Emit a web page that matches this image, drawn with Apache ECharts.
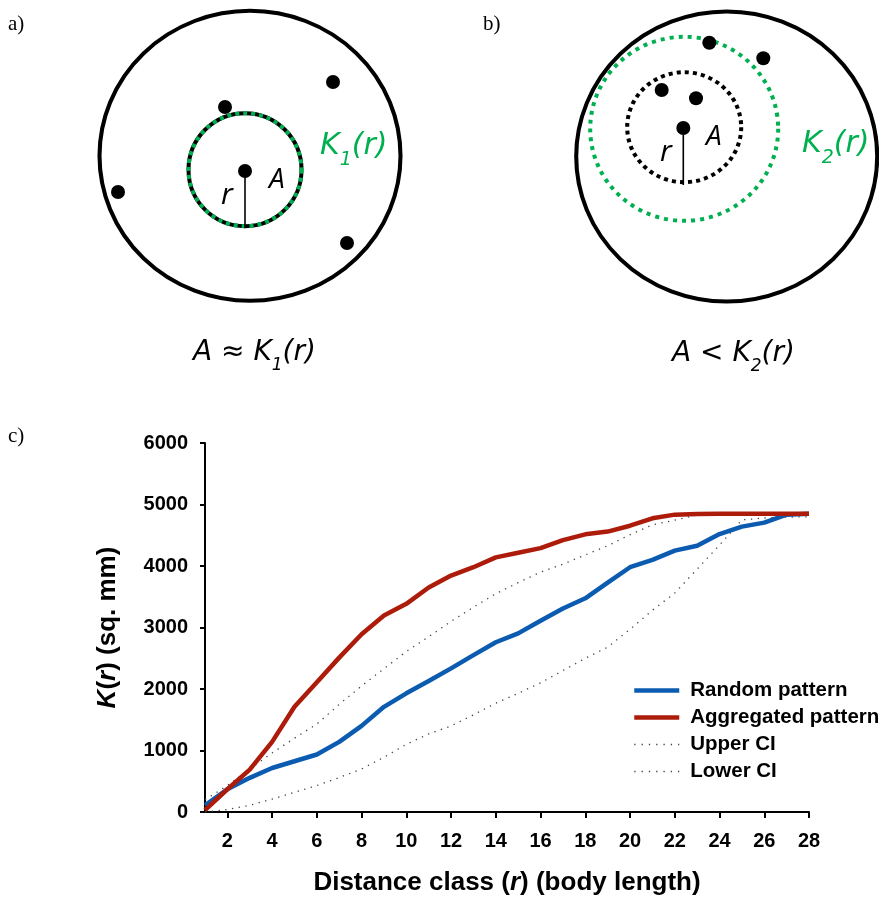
<!DOCTYPE html>
<html>
<head>
<meta charset="utf-8">
<script src="https://cdn.jsdelivr.net/npm/echarts@6/dist/echarts.min.js"></script>
<style>html,body{margin:0;padding:0;background:#fff}#c{width:879px;height:897px}</style>
</head>
<body>
<div id="c"></div>
<script>
// ---- Panel c data ----
const distanceClass = [1,2,3,4,5,6,7,8,9,10,11,12,13,14,15,16,17,18,19,20,21,22,23,24,25,26,27,28];
const randomPattern = [110,370,555,715,825,935,1140,1400,1710,1930,2130,2335,2550,2760,2905,3110,3310,3475,3730,3980,4100,4250,4330,4520,4640,4705,4835,4850];
const aggregatedPattern = [30,370,690,1140,1710,2110,2510,2890,3195,3385,3650,3845,3980,4140,4215,4290,4420,4515,4560,4655,4775,4835,4845,4850,4850,4850,4850,4850];
const upperCI = [200,430,700,960,1200,1430,1750,2050,2330,2610,2850,3100,3330,3550,3730,3900,4030,4180,4330,4510,4670,4745,4830,4855,4855,4855,4855,4855];
const lowerCI = [0,40,110,210,320,430,560,700,890,1100,1270,1400,1580,1770,1930,2100,2300,2500,2680,2970,3280,3560,3950,4340,4750,4780,4795,4800];
const yTicks = [0,1000,2000,3000,4000,5000,6000];

// ---- Diagram (panels a, b) data, in diagram units ----
const outerCircles = [[250,155.8],[726.7,156.5]];
const innerCircleA = [[245,169.7]];
const greenCircleB = [[684.2,128.8]];
const blackCircleB = [[684.2,127.2]];
const dotsA = [[245,171],[225,107],[333,82],[118,192],[347,243]];
const dotsB = [[683.3,128],[661.7,90],[696,98.3],[709.3,42.7],[763.3,58.3]];
const radiusA = [[245,171],[245,228]];
const radiusB = [[683.3,128],[683.3,185]];

const GREEN = '#00b050';
const BLUE = '#0b5cb0';
const RED = '#ad1c0a';
const SANS = 'Liberation Sans, Arial, sans-serif';
const ITAL = '"DejaVu Sans", "Open Sans", sans-serif';

const chart = echarts.init(document.getElementById('c'), null, {renderer:'canvas'});

function kLabel(x, y, str, color, size) {
  const sub = Math.round(size*0.62);
  const rich = {
    i: {fontFamily: ITAL, fontStyle: 'italic', fontSize: size, lineHeight: size + 8, verticalAlign: 'top', fill: color},
    s: {fontFamily: ITAL, fontStyle: 'italic', fontSize: sub, lineHeight: sub, padding: [Math.round(size*0.66),0,0,0], verticalAlign: 'top', fill: color}
  };
  return {type:'text', x: x, y: y, style: {text: str, rich: rich, fill: color}};
}
function plain(x, y, str, font) {
  return {type: 'text', x: x, y: y, style: {text: str, font: font, fill: '#000'}};
}

const option = {
  animation: false,
  backgroundColor: '#fff',
  grid: [
    {left: 205, right: 70, top: 443, bottom: 85},
    {left: 0, top: 0, width: 879, height: 380}
  ],
  xAxis: [
    {
      type: 'category', gridIndex: 0, data: distanceClass, boundaryGap: false,
      axisLine: {lineStyle: {color: '#000', width: 2}},
      axisTick: {show: true, length: 6, lineStyle: {color:'#000', width: 2},
        interval: function(i, v){ return Number(v) % 2 === 0; }},
      axisLabel: {color: '#000', fontFamily: SANS, fontWeight: 'bold', fontSize: 20, margin: 19,
        interval: function(i, v){ return Number(v) % 2 === 0; }},
      splitLine: {show: false},
      name: '{n|Distance class (}{i|r}{n|) (body length)}',
      nameLocation: 'middle', nameGap: 58,
      nameTextStyle: {rich: {
        n: {fontFamily: SANS, fontWeight: 'bold', fontSize: 26, color: '#000'},
        i: {fontFamily: SANS, fontWeight: 'bold', fontStyle: 'italic', fontSize: 26, color: '#000'}
      }}
    },
    {type: 'value', gridIndex: 1, min: 0, max: 879, show: false}
  ],
  yAxis: [
    {
      type: 'value', gridIndex: 0, min: yTicks[0], max: yTicks[yTicks.length-1], interval: 1000,
      axisLine: {show: true, lineStyle: {color: '#000', width: 2}},
      axisTick: {show: true, length: 5, lineStyle: {color:'#000', width: 2}},
      axisLabel: {color: '#000', fontFamily: SANS, fontWeight: 'bold', fontSize: 20, margin: 17,
        formatter: function(v){ return String(v); }},
      splitLine: {show: false},
      name: '{i|K}{n|(}{i|r}{n|) (sq. mm)}',
      nameLocation: 'middle', nameGap: 84, nameRotate: 90,
      nameTextStyle: {rich: {
        n: {fontFamily: SANS, fontWeight: 'bold', fontSize: 26, color: '#000'},
        i: {fontFamily: SANS, fontWeight: 'bold', fontStyle: 'italic', fontSize: 26, color: '#000'}
      }}
    },
    {type: 'value', gridIndex: 1, min: 0, max: 380, inverse: true, show: false}
  ],
  legend: {
    orient: 'vertical', left: 632, top: 680, padding: 0, itemWidth: 45, itemHeight: 14, itemGap: 6,
    itemStyle: {opacity: 0},
    textStyle: {fontFamily: SANS, fontWeight: 'bold', fontSize: 20.5, color: '#000', padding: [0,0,0,6]},
    data: [
      {name: 'Random pattern', lineStyle: {color: BLUE, width: 4.5}},
      {name: 'Aggregated pattern', lineStyle: {color: RED, width: 4.5}},
      {name: 'Upper CI', lineStyle: {color: '#444', width: 1.3, type: [1.3, 6]}},
      {name: 'Lower CI', lineStyle: {color: '#444', width: 1.3, type: [1.3, 6]}}
    ]
  },
  series: [
    {name: 'Upper CI', type: 'line', xAxisIndex: 0, yAxisIndex: 0, data: upperCI, symbol: 'none',
      lineStyle: {color: '#444', width: 1.3, type: [1.3, 5.5]}, itemStyle: {color: '#444'}, z: 2},
    {name: 'Lower CI', type: 'line', xAxisIndex: 0, yAxisIndex: 0, data: lowerCI, symbol: 'none',
      lineStyle: {color: '#444', width: 1.3, type: [1.3, 5.5]}, itemStyle: {color: '#444'}, z: 2},
    {name: 'Random pattern', type: 'line', xAxisIndex: 0, yAxisIndex: 0, data: randomPattern, symbol: 'none',
      lineStyle: {color: BLUE, width: 4.5}, itemStyle: {color: BLUE}, z: 3},
    {name: 'Aggregated pattern', type: 'line', xAxisIndex: 0, yAxisIndex: 0, data: aggregatedPattern, symbol: 'none',
      lineStyle: {color: RED, width: 4.5}, itemStyle: {color: RED}, z: 4},

    // Diagram circles
    {type: 'scatter', xAxisIndex: 1, yAxisIndex: 1, data: outerCircles, symbol: 'circle', symbolSize: [301, 290],
      itemStyle: {color: 'rgba(0,0,0,0)', borderColor: '#000', borderWidth: 4, opacity: 1}, silent: true, z: 2},
    {type: 'scatter', xAxisIndex: 1, yAxisIndex: 1, data: innerCircleA, symbol: 'circle', symbolSize: 113,
      itemStyle: {color: 'rgba(0,0,0,0)', borderColor: '#000', borderWidth: 4, opacity: 1}, silent: true, z: 2},
    {type: 'scatter', xAxisIndex: 1, yAxisIndex: 1, data: innerCircleA, symbol: 'circle', symbolSize: 113,
      itemStyle: {color: 'rgba(0,0,0,0)', borderColor: GREEN, borderWidth: 4, borderType: [4, 4], opacity: 1}, silent: true, z: 3},
    {type: 'scatter', xAxisIndex: 1, yAxisIndex: 1, data: greenCircleB, symbol: 'circle', symbolSize: [188, 184],
      itemStyle: {color: 'rgba(0,0,0,0)', borderColor: GREEN, borderWidth: 4, borderType: [4, 5], opacity: 1}, silent: true, z: 3},
    {type: 'scatter', xAxisIndex: 1, yAxisIndex: 1, data: blackCircleB, symbol: 'circle', symbolSize: [114, 110],
      itemStyle: {color: 'rgba(0,0,0,0)', borderColor: '#000', borderWidth: 4, borderType: [4, 4], opacity: 1}, silent: true, z: 3},
    {type: 'line', xAxisIndex: 1, yAxisIndex: 1, data: radiusA, symbol: 'none',
      lineStyle: {color: '#000', width: 1.6}, silent: true, z: 4},
    {type: 'line', xAxisIndex: 1, yAxisIndex: 1, data: radiusB, symbol: 'none',
      lineStyle: {color: '#000', width: 1.6}, silent: true, z: 4},
    {type: 'scatter', xAxisIndex: 1, yAxisIndex: 1, data: dotsA.concat(dotsB), symbol: 'circle', symbolSize: 14,
      itemStyle: {color: '#000', opacity: 1}, silent: true, z: 5}
  ],
  graphic: [
    plain(8, 14, 'a)', '21px "Liberation Serif", serif'),
    plain(483, 14, 'b)', '21px "Liberation Serif", serif'),
    plain(8, 426, 'c)', '21px "Liberation Serif", serif'),
    // panel a labels
    plain(221, 180, 'r', 'italic 30px "Open Sans", sans-serif'),
    plain(269, 166, 'A', 'italic 28px "Open Sans", sans-serif'),
    kLabel(320, 131, '{i|K}{s|1}{i|(r)}', GREEN, 30),
    kLabel(193, 339, '{i|A ≈ K}{s|1}{i|(r)}', '#000', 28),
    // panel b labels
    plain(660, 137, 'r', 'italic 30px "Open Sans", sans-serif'),
    plain(706, 123, 'A', 'italic 28px "Open Sans", sans-serif'),
    kLabel(802, 129, '{i|K}{s|2}{i|(r)}', GREEN, 30),
    kLabel(672, 340, '{i|A < K}{s|2}{i|(r)}', '#000', 28)
  ]
};
chart.setOption(option);
</script>
</body>
</html>
